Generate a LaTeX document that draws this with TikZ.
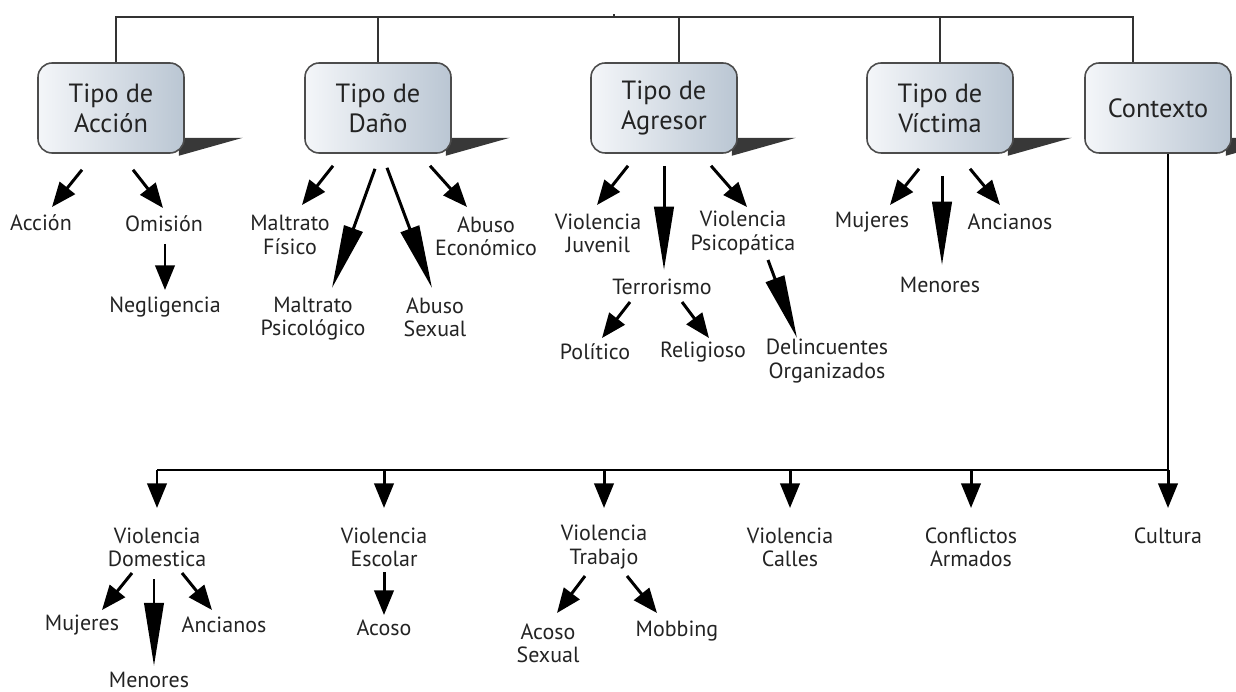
\documentclass[tikz,border=0pt]{standalone}
\usepackage{fontspec}
\setmainfont{PT Sans}
\usepackage{tikz}
\usetikzlibrary{arrows.meta,calc,backgrounds}
\definecolor{cajaclara}{RGB}{244,246,249}
\definecolor{cajaoscura}{RGB}{186,198,211}
\definecolor{tinta}{RGB}{35,35,35}
\tikzstyle{caja} = [rectangle, rounded corners=8pt, draw=black!70, line width=0.9pt, left color=cajaclara, right color=cajaoscura, minimum width=2.92cm, minimum height=1.8cm, align=center, text=tinta, font=\fontsize{15}{17}\selectfont]
\tikzstyle{etiqueta} = [align=center, inner sep=0pt, text=tinta, font=\fontsize{12.5}{13.2}\selectfont]
\tikzstyle{linea} = [line width=0.9pt, color=black!80]
\tikzstyle{bus} = [line width=1.5pt, color=black]
\tikzstyle{flecha} = [line width=1.7pt, -{Triangle[length=14pt,width=11pt]}]
\tikzstyle{flecha larga} = [line width=1.7pt, -{Triangle[length=36pt,width=11pt]}]
\tikzstyle{sombra} = [fill=black!78]

\begin{document}
\begin{tikzpicture}[x=0.02cm, y=-0.02cm]
\useasboundingbox (0,0) rectangle (1236,692);

% Categorias
\node[caja] (tacc) at (111,108) {Tipo de\\Acción};
\node[caja] (tdan) at (378,108) {Tipo de\\Daño};
\node[caja] (tagr) at (664,108) {Tipo de\\Agresor};
\node[caja] (tvic) at (940,108) {Tipo de\\Víctima};
\node[caja] (ctx) at (1158,108) {Contexto};

\begin{pgfonlayer}{background}
\foreach \b in {tacc,tdan,tagr,tvic,ctx}
  \fill[sombra] ($(\b.south east)+(-6,-16)$) -- ++(64,0) -- ($(\b.south east)+(-6,2)$) -- cycle;
\end{pgfonlayer}

% Raiz
\coordinate (raiz) at (614,17);
\draw[linea] ($(tacc.north)+(5,0)$) -- ($(tacc.north |- raiz)+(5,0)$) -- ($(ctx.north |- raiz)+(-25,0)$) -- ($(ctx.north)+(-25,0)$);
\foreach \b/\d in {tdan/0,tagr/15,tvic/0}
  \draw[linea] ($(\b.north)+(\d,0)$) -- ($(\b.north |- raiz)+(\d,0)$);
\draw[linea] (raiz) -- ++(0,-3);

% Accion
\node[etiqueta] (accion) at (41,223) {Acción};
\node[etiqueta] (omision) at (164,224) {Omisión};
\node[etiqueta] (neglig) at (165,307) {Negligencia};
\draw[flecha] ($(tacc.south)+(-29,16)$) -- ($(accion)+(11,-16)$);
\draw[flecha] ($(tacc.south)+(22,16)$) -- ($(omision)+(-1,-16)$);
\draw[flecha] ($(omision)+(1,20)$) -- ($(neglig)+(0,-17)$);

% Dano
\node[etiqueta] (mfis) at (290,235) {Maltrato\\Físico};
\node[etiqueta] (mpsi) at (313,319) {Maltrato\\Psicológico};
\node[etiqueta] (asex) at (435,317) {Abuso\\Sexual};
\node[etiqueta] (aeco) at (486,236) {Abuso\\Económico};
\draw[flecha] ($(tdan.south)+(-45,12)$) -- ($(mfis)+(12,-30)$);
\draw[flecha larga] ($(tdan.south)+(-3,15)$) -- ($(mpsi)+(19,-31)$);
\draw[flecha larga] ($(tdan.south)+(9,14)$) -- ($(asex)+(-3,-29)$);
\draw[flecha] ($(tdan.south)+(52,12)$) -- ($(aeco)+(-19,-29)$);

% Agresor
\node[etiqueta] (vjuv) at (598,233) {Violencia\\Juvenil};
\node[etiqueta] (terr) at (662,287) {Terrorismo};
\node[etiqueta] (vpsi) at (743,233) {Violencia\\Psicopática};
\node[etiqueta] (polit) at (595,352) {Político};
\node[etiqueta] (relig) at (703,352) {Religioso};
\node[etiqueta] (delin) at (827,361) {Delincuentes\\Organizados};
\draw[flecha] ($(tagr.south)+(-36,12)$) -- ($(vjuv)+(-1,-28)$);
\draw[flecha larga] ($(tagr.south)+(0,12)$) -- ($(terr)+(2,-17)$);
\draw[flecha] ($(tagr.south)+(47,12)$) -- ($(vpsi)+(4,-26)$);
\draw[flecha larga] ($(vpsi)+(25,27)$) -- ($(delin)+(-30,-23)$);
\draw[flecha] ($(terr)+(-32,15)$) -- ($(polit)+(7,-14)$);
\draw[flecha] ($(terr)+(20,15)$) -- ($(relig)+(6,-14)$);

% Victima
\node[etiqueta] (vmuj) at (872,222) {Mujeres};
\node[etiqueta] (vmen) at (940,285) {Menores};
\node[etiqueta] (vanc) at (1010,222) {Ancianos};
\draw[flecha] ($(tvic.south)+(-21,15)$) -- ($(vmuj)+(18,-17)$);
\draw[flecha larga] ($(tvic.south)+(2,22)$) -- ($(vmen)+(2,-20)$);
\draw[flecha] ($(tvic.south)+(30,15)$) -- ($(vanc)+(-10,-17)$);

% Contexto
\coordinate (bus) at (1168,470);
\node[etiqueta] (vdom) at (157,547) {Violencia\\Domestica};
\node[etiqueta] (vesc) at (384,547) {Violencia\\Escolar};
\node[etiqueta] (vtra) at (604,547) {Violencia\\Trabajo};
\node[etiqueta] (vcal) at (790,547) {Violencia\\Calles};
\node[etiqueta] (carm) at (971,547) {Conflictos\\Armados};
\node[etiqueta] (cult) at (1168,536) {Cultura};
\draw[bus] ($(ctx.south)+(10,0)$) -- (bus) -- (vdom |- bus);
\foreach \n in {vdom,vesc,vtra,vcal,carm}
  \draw[flecha] (\n |- bus) -- ($(\n)+(0,-39)$);
\draw[flecha] (cult |- bus) -- ($(cult)+(0,-28)$);

\node[etiqueta] (dmuj) at (82,625) {Mujeres};
\node[etiqueta] (dmen) at (149,680) {Menores};
\node[etiqueta] (danc) at (224,625) {Ancianos};
\node[etiqueta] (acoso) at (384,628) {Acoso};
\node[etiqueta] (acsex) at (548,643) {Acoso\\Sexual};
\node[etiqueta] (mobb) at (677,631) {Mobbing};
\draw[flecha] ($(vdom)+(-25,26)$) -- ($(dmuj)+(20,-15)$);
\draw[flecha larga] ($(vdom)+(-3,32)$) -- ($(dmen)+(5,-14)$);
\draw[flecha] ($(vdom)+(25,26)$) -- ($(danc)+(-12,-15)$);
\draw[flecha] ($(vesc)+(0,25)$) -- ($(acoso)+(0,-13)$);
\draw[flecha] ($(vtra)+(-19,29)$) -- ($(acsex)+(9,-30)$);
\draw[flecha] ($(vtra)+(23,29)$) -- ($(mobb)+(-20,-18)$);
\end{tikzpicture}
\end{document}
